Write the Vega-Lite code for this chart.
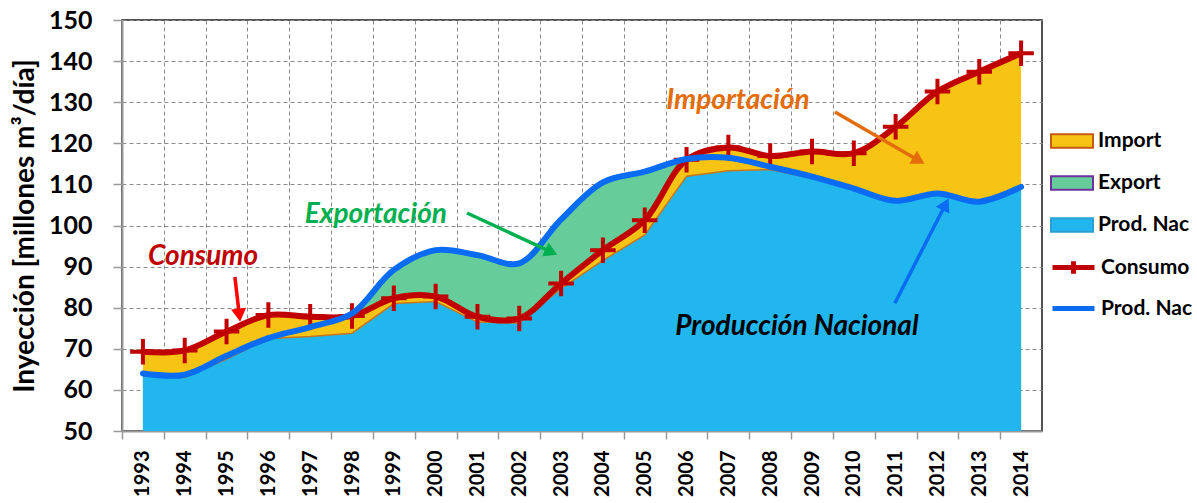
{
  "$schema": "https://vega.github.io/schema/vega-lite/v6.json",
  "width": 920,
  "height": 411,
  "autosize": {"type": "none"},
  "padding": {"left": 122, "top": 20, "right": 155, "bottom": 72},
  "background": "white",
  "config": {"font": "Lato", "view": {"stroke": "#1a1a1a", "strokeWidth": 1.5}},
  "datasets": {
    "serie": [
      {"anio": 1993, "consumo": 69.3, "prod": 64.0, "base": 63.5},
      {"anio": 1994, "consumo": 69.6, "prod": 63.7, "base": 63.0},
      {"anio": 1995, "consumo": 74.2, "prod": 68.3, "base": 67.5},
      {"anio": 1996, "consumo": 78.2, "prod": 72.6, "base": 72.5},
      {"anio": 1997, "consumo": 77.8, "prod": 75.3, "base": 73.0},
      {"anio": 1998, "consumo": 78.0, "prod": 78.6, "base": 73.8},
      {"anio": 1999, "consumo": 82.3, "prod": 89.2, "base": 81.0},
      {"anio": 2000, "consumo": 82.7, "prod": 94.0, "base": 81.5},
      {"anio": 2001, "consumo": 77.8, "prod": 92.8, "base": 76.5},
      {"anio": 2002, "consumo": 77.4, "prod": 90.8, "base": 76.3},
      {"anio": 2003, "consumo": 85.9, "prod": 101.5, "base": 84.7},
      {"anio": 2004, "consumo": 94.0, "prod": 110.5, "base": 91.5},
      {"anio": 2005, "consumo": 101.3, "prod": 113.1, "base": 97.7},
      {"anio": 2006, "consumo": 116.0, "prod": 116.2, "base": 112.0},
      {"anio": 2007, "consumo": 119.0, "prod": 116.5, "base": 113.3},
      {"anio": 2008, "consumo": 116.9, "prod": 114.3, "base": 113.6},
      {"anio": 2009, "consumo": 118.0, "prod": 111.9, "base": 111.5},
      {"anio": 2010, "consumo": 117.6, "prod": 109.0, "base": 108.7},
      {"anio": 2011, "consumo": 124.0, "prod": 106.0, "base": 105.7},
      {"anio": 2012, "consumo": 132.6, "prod": 107.8, "base": 107.5},
      {"anio": 2013, "consumo": 137.4, "prod": 105.8, "base": 105.5},
      {"anio": 2014, "consumo": 141.9, "prod": 109.4, "base": 109.2}
    ],
    "notas": [
      {"nombre": "Consumo", "texto": "Consumo", "tx": 1994.44, "ty": 92.3, "x1": 1995.2, "y1": 87.47, "x2": 1995.3, "y2": 78.7},
      {"nombre": "Exportación", "texto": "Exportación", "tx": 1998.57, "ty": 102.55, "x1": 2000.75, "y1": 103.04, "x2": 2002.72, "y2": 93.77},
      {"nombre": "Importación", "texto": "Importación", "tx": 2007.23, "ty": 130.3, "x1": 2009.55, "y1": 127.6, "x2": 2011.51, "y2": 116.06},
      {"nombre": "Producción", "texto": "Producción  Nacional", "tx": 2008.64, "ty": 75.3, "x1": 2010.98, "y1": 81.1, "x2": 2012.17, "y2": 104.7}
    ]
  },
  "resolve": {"scale": {"color": "independent"}},
  "layer": [
    {
      "data": {"name": "serie"},
      "mark": {"type": "area", "interpolate": "linear"},
      "encoding": {
        "x": {
          "field": "anio", "type": "quantitative",
          "scale": {"domain": [1992.5, 2014.5], "nice": false, "zero": false},
          "axis": {
            "values": [1993,1994,1995,1996,1997,1998,1999,2000,2001,2002,2003,2004,2005,2006,2007,2008,2009,2010,2011,2012,2013,2014],
            "title": null, "format": "d",
            "labelAngle": 270, "labelAlign": "right", "labelBaseline": "middle",
            "labelFontSize": 20, "labelFontWeight": "bold", "labelColor": "black",
            "labelPadding": 11, "labelFlush": false, "labelOverlap": false, "labelBound": false,
            "tickSize": 8, "tickColor": "#999999", "tickWidth": 1.5,
            "tickOffset": -20.909, "labelOffset": 20.909,
            "domainColor": "#999999", "domainWidth": 2,
            "grid": true, "gridColor": "#8a8a8a", "gridDash": [4, 3], "gridWidth": 1
          }
        },
        "y": {
          "field": "prod", "type": "quantitative",
          "scale": {"domain": [50, 150], "nice": false, "zero": false},
          "axis": {
            "values": [50,60,70,80,90,100,110,120,130,140,150],
            "title": "Inyección [millones m³/día]",
            "titleFontSize": 28, "titleFontWeight": "bold", "titleColor": "black", "titlePadding": 9,
            "labelFontSize": 25, "labelFontWeight": "bold", "labelColor": "black", "labelPadding": 21,
            "labelFlush": false,
            "tickSize": 9, "tickColor": "#999999", "tickWidth": 1.5,
            "domainColor": "#999999", "domainWidth": 2,
            "grid": true, "gridColor": "#8a8a8a", "gridDash": [4, 3], "gridWidth": 1
          }
        },
        "y2": {"datum": 50},
        "fill": {
          "datum": "Export", "type": "nominal",
          "scale": {"domain": ["Import", "Export", "Prod. Nac"], "range": ["#F7C414", "#66CC99", "#22B6EE"]},
          "legend": {
            "title": null, "orient": "none", "legendX": 928, "legendY": 99,
            "symbolType": "M-1,-0.32H1V0.32H-1Z", "symbolSize": 1764, "symbolStrokeWidth": 2,
            "labelFont": "Lato", "labelFontSize": 21, "labelFontWeight": "bold", "labelColor": "black",
            "rowPadding": 9, "labelOffset": 4,
            "encode": {
              "symbols": {
                "update": {
                  "stroke": {"signal": "datum.value === 'Import' ? '#C55A11' : datum.value === 'Export' ? '#7030A0' : '#2E9FD0'"},
                  "fill": {"signal": "datum.value === 'Import' ? '#FFC000' : datum.value === 'Export' ? '#D3E8BE' : '#3CC8F2'"}
                }
              }
            }
          }
        }
      }
    },
    {
      "data": {"name": "serie"},
      "mark": {"type": "area", "interpolate": "linear"},
      "encoding": {
        "x": {"field": "anio", "type": "quantitative"},
        "y": {"field": "consumo", "type": "quantitative"},
        "y2": {"datum": 50},
        "fill": {"datum": "Import", "type": "nominal"}
      }
    },
    {
      "data": {"name": "serie"},
      "mark": {"type": "area", "interpolate": "linear"},
      "encoding": {
        "x": {"field": "anio", "type": "quantitative"},
        "y": {"field": "base", "type": "quantitative"},
        "y2": {"datum": 50},
        "fill": {"datum": "Prod. Nac", "type": "nominal"}
      }
    },
    {
      "data": {"name": "serie"},
      "mark": {"type": "line", "interpolate": "linear", "color": "#C8761C", "strokeWidth": 1.5},
      "encoding": {
        "x": {"field": "anio", "type": "quantitative"},
        "y": {"field": "base", "type": "quantitative"}
      }
    },
    {
      "data": {"name": "serie"},
      "mark": {"type": "line", "interpolate": "catmull-rom", "strokeWidth": 6, "strokeCap": "round"},
      "encoding": {
        "x": {"field": "anio", "type": "quantitative"},
        "y": {"field": "consumo", "type": "quantitative"},
        "stroke": {
          "datum": "Consumo", "type": "nominal",
          "scale": {"domain": ["Consumo", "Prod. Nac"], "range": ["#C00000", "#0A6CF2"]},
          "legend": {
            "title": null, "orient": "none", "legendX": 928, "legendY": 224,
            "symbolType": "M-1,0H1", "symbolSize": 1764, "symbolStrokeWidth": 5,
            "labelFont": "Lato", "labelFontSize": 21, "labelFontWeight": "bold", "labelColor": "black",
            "rowPadding": 1, "labelOffset": 4,
            "encode": {
              "symbols": {
                "update": {
                  "shape": {"signal": "datum.value === 'Consumo' ? 'M-1,0H1M0,-0.3V0.3' : 'M-1,0H1'"}
                }
              }
            }
          }
        }
      }
    },
    {
      "data": {"name": "serie"},
      "mark": {"type": "point", "shape": "M-1,0H1M0,-1V1", "filled": false, "size": 650, "strokeWidth": 4, "color": "#C00000", "opacity": 1},
      "encoding": {
        "x": {"field": "anio", "type": "quantitative"},
        "y": {"field": "consumo", "type": "quantitative"}
      }
    },
    {
      "data": {"name": "serie"},
      "mark": {"type": "line", "interpolate": "catmull-rom", "strokeWidth": 6, "strokeCap": "round"},
      "encoding": {
        "x": {"field": "anio", "type": "quantitative"},
        "y": {"field": "prod", "type": "quantitative"},
        "stroke": {"datum": "Prod. Nac", "type": "nominal"}
      }
    },
    {
      "data": {"name": "notas"},
      "mark": {"type": "rule", "strokeWidth": 3.5},
      "encoding": {
        "x": {"field": "x1", "type": "quantitative"},
        "y": {"field": "y1", "type": "quantitative"},
        "x2": {"field": "x2"},
        "y2": {"field": "y2"},
        "color": {"field": "nombre", "type": "nominal", "scale": {"domain": ["Consumo", "Exportación", "Importación", "Producción"], "range": ["#FF0000", "#00B050", "#E46C0A", "#0A6CF2"]}, "legend": null}
      }
    },
    {
      "data": {"name": "notas"},
      "transform": [{"filter": "datum.nombre === 'Consumo'"}],
      "mark": {"type": "point", "shape": "triangle", "filled": true, "size": 230, "angle": 173, "color": "#FF0000", "opacity": 1},
      "encoding": {"x": {"field": "x2", "type": "quantitative"}, "y": {"field": "y2", "type": "quantitative"}}
    },
    {
      "data": {"name": "notas"},
      "transform": [{"filter": "datum.nombre === 'Exportación'"}],
      "mark": {"type": "point", "shape": "triangle", "filled": true, "size": 230, "angle": 115, "color": "#00B050", "opacity": 1},
      "encoding": {"x": {"field": "x2", "type": "quantitative"}, "y": {"field": "y2", "type": "quantitative"}}
    },
    {
      "data": {"name": "notas"},
      "transform": [{"filter": "datum.nombre === 'Importación'"}],
      "mark": {"type": "point", "shape": "triangle", "filled": true, "size": 230, "angle": 120, "color": "#E46C0A", "opacity": 1},
      "encoding": {"x": {"field": "x2", "type": "quantitative"}, "y": {"field": "y2", "type": "quantitative"}}
    },
    {
      "data": {"name": "notas"},
      "transform": [{"filter": "datum.nombre === 'Producción'"}],
      "mark": {"type": "point", "shape": "triangle", "filled": true, "size": 230, "angle": 27, "color": "#0A6CF2", "opacity": 1},
      "encoding": {"x": {"field": "x2", "type": "quantitative"}, "y": {"field": "y2", "type": "quantitative"}}
    },
    {
      "data": {"name": "notas"},
      "mark": {"type": "text", "font": "Lato", "fontSize": 28, "fontWeight": "bold", "fontStyle": "italic", "align": "center", "baseline": "middle"},
      "encoding": {
        "x": {"field": "tx", "type": "quantitative"},
        "y": {"field": "ty", "type": "quantitative"},
        "text": {"field": "texto"},
        "color": {"field": "nombre", "type": "nominal", "scale": {"domain": ["Consumo", "Exportación", "Importación", "Producción"], "range": ["#C00000", "#00B050", "#E46C0A", "#000000"]}, "legend": null}
      }
    }
  ]
}
